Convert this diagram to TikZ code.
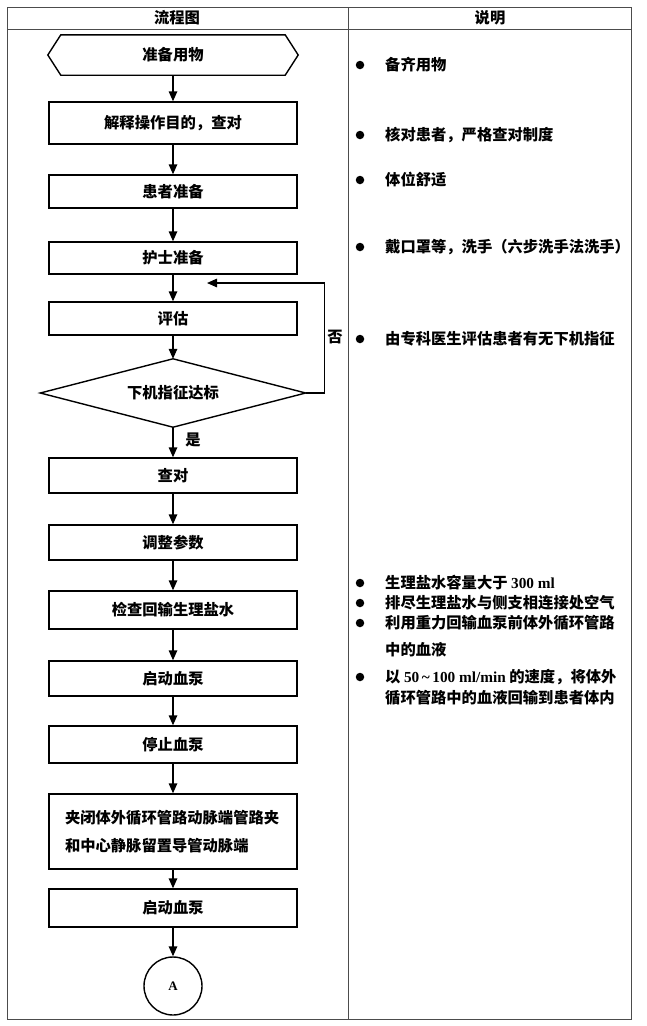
\documentclass[tikz,border=0pt]{standalone}
\usepackage{fontspec}
\setmainfont{Liberation Serif}
\newfontfamily\cjk{Noto Sans CJK SC}
\usetikzlibrary{shapes.geometric,arrows.meta,calc}
\tikzset{
  txt/.style={font=\cjk\bfseries\fontsize{15.3}{20}\selectfont, inner sep=0pt},
  box/.style={draw, line width=1.4pt, minimum width=248pt, txt, inner sep=0pt},
  arr/.style={line width=1.4pt, -{Triangle[length=10pt,width=8.5pt]}},
  grid/.style={draw=black!70, line width=0.9pt},
  bul/.style={circle, fill, inner sep=0pt, minimum size=8.5pt},
  btxt/.style={txt, anchor=west, align=left},
}
\begin{document}
\begin{tikzpicture}[x=1pt,y=-1pt]
\useasboundingbox (0,0) rectangle (646,1026);
% table
\draw[grid] (7,7) rectangle (631,1019);
\draw[grid] (7,29) -- (631,29);
\draw[grid] (348,7) -- (348,1019);
\node[txt] (h1) at (177,18) {流程图};
\node[txt] (h2) at (490,18) {说明};
% flow nodes
\node[txt, minimum width=250pt, minimum height=40pt] (n0) at (173,55) {准备用物};
\draw[line width=1.4pt] (n0.west) -- ($(n0.north west)+(13,0)$) -- ($(n0.north east)+(-13,0)$) -- (n0.east) -- ($(n0.south east)+(-13,0)$) -- ($(n0.south west)+(13,0)$) -- cycle;
\node[box, minimum height=42pt] (n1) at (173,123) {解释操作目的，查对};
\node[box, minimum height=33pt] (n2) at (173,191.5) {患者准备};
\node[box, minimum height=32pt] (n3) at (173,258) {护士准备};
\node[box, minimum height=33pt] (n4) at (173,318.5) {评估};
\node[txt, minimum width=265pt, minimum height=68pt] (d) at (173,393) {下机指征达标};
\draw[line width=1.4pt] (d.west) -- (d.north) -- (d.east) -- (d.south) -- cycle;
\node[box, minimum height=35pt] (n5) at (173,475.5) {查对};
\node[box, minimum height=35pt] (n6) at (173,542.5) {调整参数};
\node[box, minimum height=38pt] (n7) at (173,610) {检查回输生理盐水};
\node[box, minimum height=35pt] (n8) at (173,678.5) {启动血泵};
\node[box, minimum height=37pt] (n9) at (173,744.5) {停止血泵};
\node[box, minimum height=75pt, text width=216pt, align=left, font=\cjk\bfseries\fontsize{15.3}{28}\selectfont] (n10) at (173,831.5) {夹闭体外循环管路动脉端管路夹\\和中心静脉留置导管动脉端};
\node[box, minimum height=38pt] (n11) at (173,908) {启动血泵};
\node[draw, circle, line width=1.4pt, minimum size=58pt, inner sep=0pt, font=\bfseries\fontsize{13}{14}\selectfont] (A) at (173,986) {A};
% connectors
\draw[arr] (n0) -- (n1);
\draw[arr] (n1) -- (n2);
\draw[arr] (n2) -- (n3);
\draw[arr] (n3) -- (n4);
\draw[arr] (n4) -- (d.north);
\draw[arr] (d.south) -- (n5);
\draw[arr] (n5) -- (n6);
\draw[arr] (n6) -- (n7);
\draw[arr] (n7) -- (n8);
\draw[arr] (n8) -- (n9);
\draw[arr] (n9) -- (n10);
\draw[arr] (n10) -- (n11);
\draw[arr] (n11) -- (A);
\coordinate (lp) at (207,283);
\draw[arr] (d.east) -- ++(19,0) |- (lp);
\node[txt] (no) at (335,337) {否};
\node[txt] (yes) at (193,440) {是};
% notes
\node[bul] (c1) at (360,65) {};  \node[btxt] (t1) at (385,65) {备齐用物};
\node[bul] (c2) at (360,135) {}; \node[btxt] (t2) at (385,135) {核对患者，严格查对制度};
\node[bul] (c3) at (360,180) {}; \node[btxt] (t3) at (385,180) {体位舒适};
\node[bul] (c4) at (360,247) {}; \node[btxt] (t4) at (385,247) {戴口罩等，洗手（六步洗手法洗手）};
\node[bul] (c5) at (360,339) {}; \node[btxt] (t5) at (385,339) {由专科医生评估患者有无下机指征};
\node[bul] (c6) at (360,583) {}; \node[btxt] (t6) at (385,583) {生理盐水容量大于 {\rmfamily 300 ml}};
\node[bul] (c7) at (360,603) {}; \node[btxt] (t7) at (385,603) {排尽生理盐水与侧支相连接处空气};
\node[bul] (c8) at (360,623) {}; \node[btxt] (t8) at (385,623) {利用重力回输血泵前体外循环管路};
\node[btxt] (t8b) at (385,650) {中的血液};
\node[bul] (c9) at (360,677) {}; \node[btxt] (t9) at (385,677) {以 {\rmfamily 50\,\textasciitilde\,100 ml/min} 的速度，将体外};
\node[btxt] (t9b) at (385,698) {循环管路中的血液回输到患者体内};
\end{tikzpicture}
\end{document}
